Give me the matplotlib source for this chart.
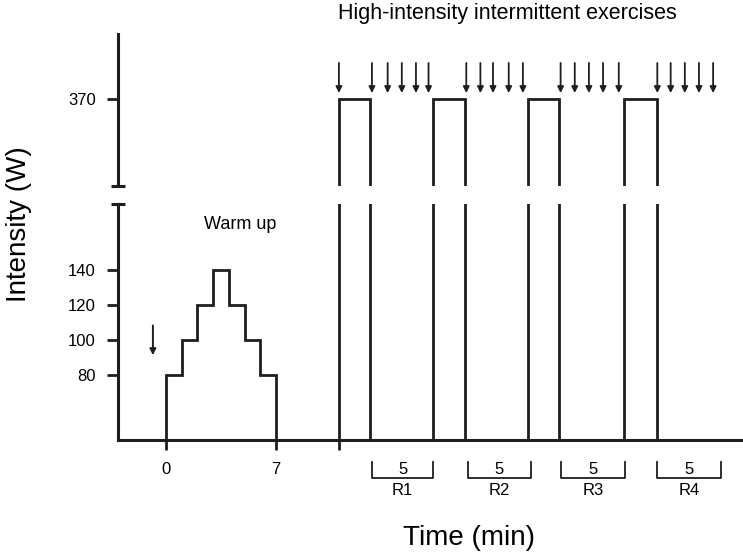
import matplotlib.pyplot as plt
import matplotlib.transforms as mtransforms

plt.rcParams.update({
    "font.family": ["Liberation Sans", "DejaVu Sans"],
    "font.size": 12,
})

INK = "#1e1e1e"

# warm-up: one-minute stages (W)
warm_edges = [0, 1, 2, 3, 4, 5, 6, 7]
warm_watts = [80, 100, 120, 140, 120, 100, 80]
warm_arrow_t = -0.83

# high-intensity bouts (min)
bout_start = [11.0, 17.0, 23.0, 29.1]
bout_end = [13.0, 19.0, 25.0, 31.2]
bout_watts = 370

# arrows above the bouts (min)
arrow_t = [11.0, 13.1, 14.1, 15.0, 15.9, 16.7,
           19.1, 20.0, 20.8, 21.8, 22.7,
           25.1, 26.0, 26.9, 27.8, 28.8,
           31.25, 32.1, 33.0, 33.9, 34.8]

# recovery brackets
rec_start = [13.1, 19.2, 25.1, 31.2]
rec_end = [17.0, 23.2, 29.2, 35.3]
rec_len = ["5", "5", "5", "5"]
rec_names = ["R1", "R2", "R3", "R4"]

x_ticks = [0, 7, 11]
x_ticklabels = ["0", "7", ""]
low_yticks = [80, 100, 120, 140]
top_yticks = [370]

fig = plt.figure(figsize=(7.43, 5.57), dpi=100)
ax = fig.add_axes([118 / 743, 1 - 440 / 557, 1 - 118 / 743, (440 - 204) / 557])
ax_top = fig.add_axes([118 / 743, 1 - 186 / 557, 1 - 118 / 743, (186 - 34) / 557])

xlim = (-3.05, 36.7)
low_ylim = (43, 178)
top_ylim = (300, 422.3)

for a in (ax, ax_top):
    a.set_xlim(*xlim)
    a.patch.set_alpha(0)
    for s in ("top", "right"):
        a.spines[s].set_visible(False)
    a.spines["left"].set_linewidth(2.2)
    a.spines["left"].set_color(INK)
    a.tick_params(axis="y", direction="out", length=8, width=2, color=INK,
                  labelsize=12, pad=8)

ax.set_ylim(*low_ylim)
ax_top.set_ylim(*top_ylim)
ax_top.spines["bottom"].set_visible(False)
ax_top.set_xticks([])
ax.spines["bottom"].set_linewidth(2.2)
ax.spines["bottom"].set_color(INK)

ax.set_yticks(low_yticks)
ax_top.set_yticks(top_yticks)
ax.set_xticks(x_ticks)
ax.set_xticklabels(x_ticklabels)
ax.tick_params(axis="x", direction="out", length=7, width=2, color=INK,
               labelsize=12, pad=9)

# break caps on the y axis
ax.plot([0], [1], transform=ax.transAxes, marker="_", markersize=10,
        mew=2.2, color=INK, clip_on=False)
ax_top.plot([0], [0], transform=ax_top.transAxes, marker="_", markersize=10,
            mew=2.2, color=INK, clip_on=False)

# warm-up profile
ax.stairs(warm_watts, warm_edges, baseline=low_ylim[0], color=INK, linewidth=2)
ax.annotate("", xy=(warm_arrow_t, 91.5), xytext=(warm_arrow_t, 108.5),
            arrowprops=dict(arrowstyle="-|>", color=INK, lw=1.4, mutation_scale=9,
                            shrinkA=0, shrinkB=0))
ax.text(4.7, 166, "Warm up", ha="center", va="center", fontsize=13)

# bouts
for s, e in zip(bout_start, bout_end):
    for x in (s, e):
        ax.axvline(x, color=INK, linewidth=2)
    ax_top.plot([s, s, e, e], [top_ylim[0], bout_watts, bout_watts, top_ylim[0]],
                color=INK, linewidth=2, solid_joinstyle="miter")

for t in arrow_t:
    ax_top.annotate("", xy=(t, 374.8), xytext=(t, 399.0),
                    arrowprops=dict(arrowstyle="-|>", color=INK, lw=1.3,
                                    mutation_scale=9, shrinkA=0, shrinkB=0),
                    annotation_clip=False)

# recovery brackets under the axis
trans = mtransforms.blended_transform_factory(ax.transData, ax.transAxes)
for s, e, n, name in zip(rec_start, rec_end, rec_len, rec_names):
    ax.plot([s, s, e, e], [-0.093, -0.161, -0.161, -0.093], transform=trans,
            color=INK, linewidth=1.3, clip_on=False)
    ax.text((s + e) / 2, -0.125, n, transform=trans, ha="center", va="center",
            fontsize=12)
    ax.text((s + e) / 2, -0.213, name, transform=trans, ha="center", va="center",
            fontsize=12)

fig.text(338 / 743, 1 - 13 / 557, "High-intensity intermittent exercises",
         ha="left", va="center", fontsize=15.5)
fig.text(469 / 743, 1 - 538 / 557, "Time (min)", ha="center", va="center",
         fontsize=20)
fig.text(19 / 743, 1 - 224 / 557, "Intensity (W)", ha="center", va="center",
         rotation=90, fontsize=20)

fig.savefig("out.png", dpi=100)
